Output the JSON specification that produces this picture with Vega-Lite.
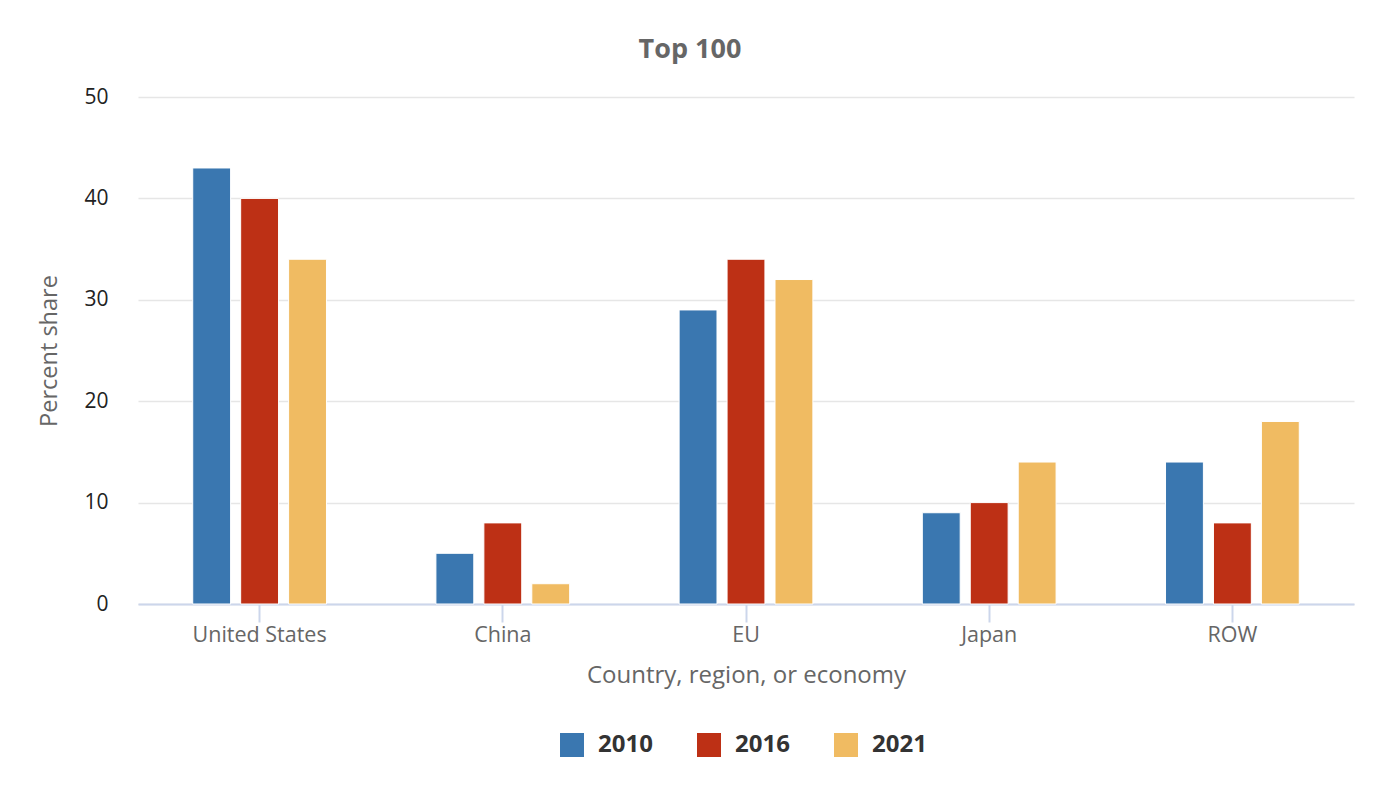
{
  "$schema": "https://vega.github.io/schema/vega-lite/v6.json",
  "autosize": {"type": "none"},
  "width": 1216,
  "height": 507,
  "padding": {"left": 138, "top": 97, "right": 22, "bottom": 202},
  "background": "white",
  "config": {"font": "Open Sans", "view": {"stroke": null}},
  "title": {"text": "Top 100", "fontSize": 27, "fontWeight": "bold", "color": "#666666", "anchor": "middle", "dx": -56, "offset": 22, "font": "Open Sans"},
  "data": {"values": [
    {"region": "United States", "year": "2010", "share": 43},
    {"region": "United States", "year": "2016", "share": 40},
    {"region": "United States", "year": "2021", "share": 34},
    {"region": "China", "year": "2010", "share": 5},
    {"region": "China", "year": "2016", "share": 8},
    {"region": "China", "year": "2021", "share": 2},
    {"region": "EU", "year": "2010", "share": 29},
    {"region": "EU", "year": "2016", "share": 34},
    {"region": "EU", "year": "2021", "share": 32},
    {"region": "Japan", "year": "2010", "share": 9},
    {"region": "Japan", "year": "2016", "share": 10},
    {"region": "Japan", "year": "2021", "share": 14},
    {"region": "ROW", "year": "2010", "share": 14},
    {"region": "ROW", "year": "2016", "share": 8},
    {"region": "ROW", "year": "2021", "share": 18}
  ]},
  "mark": {"type": "bar", "stroke": "white", "strokeWidth": 1},
  "encoding": {
    "x": {
      "field": "region", "type": "nominal", "sort": ["United States", "China", "EU", "Japan", "ROW"],
      "scale": {"paddingInner": 0.45, "paddingOuter": 0.225},
      "axis": {
        "title": "Country, region, or economy", "titleFontSize": 24, "titleFontWeight": "normal", "titleColor": "#666666", "titlePadding": 18,
        "labelAngle": 0, "labelFontSize": 21.5, "labelColor": "#666666", "labelPadding": 2,
        "domainColor": "#ccd6eb", "domainWidth": 2, "tickColor": "#ccd6eb", "tickWidth": 2, "tickSize": 18, "grid": false
      }
    },
    "xOffset": {"field": "year", "type": "nominal", "scale": {"paddingInner": 0.21, "paddingOuter": 0}},
    "y": {
      "field": "share", "type": "quantitative",
      "scale": {"domain": [0, 50]},
      "axis": {
        "title": "Percent share", "titleFontSize": 23.5, "titleFontWeight": "normal", "titleColor": "#666666", "titlePadding": 22,
        "values": [0, 10, 20, 30, 40, 50], "labelFontSize": 21, "labelColor": "#222222", "labelPadding": 30,
        "domain": false, "ticks": false, "gridColor": "#e6e6e6", "gridWidth": 1.5
      }
    },
    "color": {
      "field": "year", "type": "nominal",
      "scale": {"domain": ["2010", "2016", "2021"], "range": ["#3a77b0", "#bd3015", "#f0bb62"]},
      "legend": {
        "title": null, "orient": "none", "legendX": 422, "legendY": 636, "direction": "horizontal", "symbolType": "square", "symbolSize": 576, "symbolStrokeWidth": 0,
        "labelFontSize": 24, "labelFontWeight": "bold", "labelColor": "#333333", "labelOffset": 14, "columnPadding": 44
      }
    }
  }
}
